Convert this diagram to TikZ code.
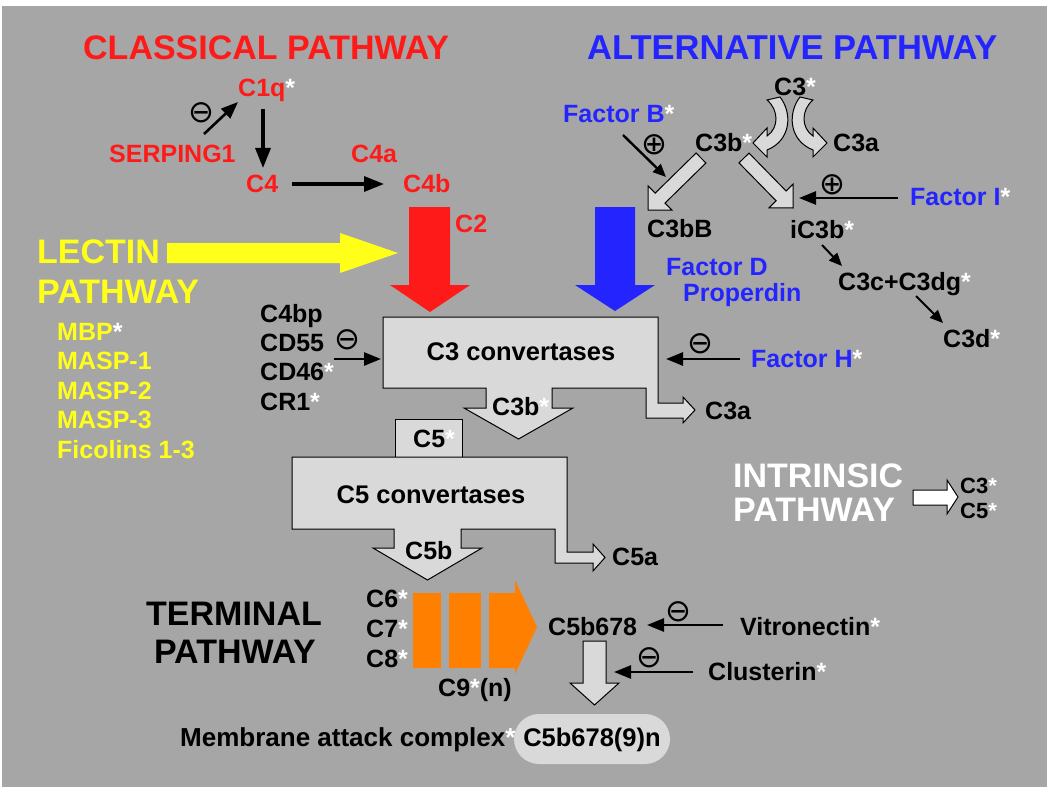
\documentclass[tikz,border=0pt]{standalone}
\usepackage{fontspec}
\setmainfont{Liberation Sans}
\newfontfamily\dejavu{DejaVu Sans}
\usetikzlibrary{arrows.meta}
\definecolor{bg}{RGB}{166,166,166}
\definecolor{cpred}{RGB}{255,26,26}
\definecolor{apblue}{RGB}{36,36,255}
\definecolor{lpyel}{RGB}{255,255,26}
\definecolor{boxgray}{RGB}{217,217,217}
\definecolor{curvgray}{RGB}{230,230,230}
\definecolor{tporange}{RGB}{255,128,0}
\newcommand{\wst}{\textcolor{white}{*}}
\tikzset{
  lbl/.style={font=\bfseries\fontsize{25}{30}\selectfont, inner sep=0pt, anchor=base west},
  slbl/.style={font=\bfseries\fontsize{22}{26}\selectfont, inner sep=0pt, anchor=base west},
  ttl/.style={font=\bfseries\fontsize{34}{40}\selectfont, inner sep=0pt, anchor=base west},
  sym/.style={font=\dejavu\fontsize{31}{31}\selectfont, inner sep=0pt},
  blk/.style={line width=3.2pt, -{Triangle[length=20pt,width=15pt]}},
  mid/.style={line width=2.6pt, -{Triangle[length=17pt,width=13pt]}},
  thn/.style={line width=2pt, -{Triangle[length=13pt,width=11pt]}},
  fat/.style={draw=black, line width=1pt, fill=boxgray, line join=miter},
}
\begin{document}
\begin{tikzpicture}[x=1pt,y=-1pt]
\useasboundingbox (0,0) rectangle (1050,789);
\fill[white] (0,0) rectangle (1050,789);
\fill[bg] (2,6) rectangle (1047,787);

% titles
\node[ttl,text=cpred,font=\bfseries\fontsize{34}{40}\selectfont] (cpt) at (83,60) {CLASSICAL PATHWAY};
\node[ttl,text=apblue,font=\bfseries\fontsize{34.5}{40}\selectfont] (apt) at (587,60) {ALTERNATIVE PATHWAY};

% classical pathway
\node[lbl,text=cpred] (c1q) at (238,96.5) {C1q\wst};
\node[lbl,text=cpred] (serp) at (109,163) {SERPING1};
\node[lbl,text=cpred] (c4) at (246,193) {C4};
\node[lbl,text=cpred] (c4a) at (351,163) {C4a};
\node[lbl,text=cpred] (c4b) at (403,193) {C4b};
\node[lbl,text=cpred] (c2) at (455,232) {C2};
\node[sym] (inh1) at (201,113) {⊖};
\coordinate (serpE) at (204,134); \coordinate (c1qW) at (238,102);
\draw[mid] (serpE) -- (c1qW);
\coordinate (c1qS) at (263,109); \coordinate (c4N) at (263,168);
\draw[blk] (c1qS) -- (c4N);
\coordinate (c4E) at (292,184); \coordinate (c4bW) at (384,184);
\draw[blk] (c4E) -- (c4bW);
\fill[cpred] (409,207) -- (450,207) -- (450,285) -- (470,285) -- (430,312) -- (390,285) -- (409,285) -- cycle;

% lectin pathway
\fill[lpyel] (167,243) -- (340,243) -- (340,233) -- (398,253) -- (340,273) -- (340,263) -- (167,263) -- cycle;
\node[ttl,text=lpyel] (lect1) at (37,263) {LECTIN};
\node[ttl,text=lpyel] (lect2) at (37,303) {PATHWAY};
\node[lbl,text=lpyel] (mbp) at (57,340) {MBP\wst};
\node[lbl,text=lpyel] (masp1) at (57,369.5) {MASP-1};
\node[lbl,text=lpyel] (masp2) at (57,399) {MASP-2};
\node[lbl,text=lpyel] (masp3) at (57,428.5) {MASP-3};
\node[lbl,text=lpyel] (fico) at (57,458) {Ficolins 1-3};

% alternative pathway
\node[lbl] (c3top) at (774,96) {C3\wst};
\draw[fat] (767,100) -- (780,97) .. controls (792,112) and (792,140) .. (767,150) -- (767,157) -- (753,143) -- (767,128) -- (767,136) .. controls (779,128) and (779,110) .. cycle;
\draw[fat] (813,100) -- (800,97) .. controls (788,112) and (788,140) .. (813,150) -- (813,157) -- (827,143) -- (813,128) -- (813,136) .. controls (801,128) and (801,110) .. cycle;
\node[lbl] (c3b1) at (695,152) {C3b\wst};
\node[lbl] (c3a1) at (833,152) {C3a};
\node[lbl,text=apblue] (fB) at (563,123) {Factor B\wst};
\node[sym] (act1) at (654,145) {⊕};
\coordinate (fBs) at (623,135); \coordinate (fBe) at (666,177);
\draw[thn,line width=2.4pt] (fBs) -- (fBe);
\draw[fat] (696.1,153.0) -- (655.2,193.1) -- (648.2,186.0) -- (648,210) -- (672.0,210.2) -- (665.0,203.1) -- (705.9,163.0) -- cycle;
\draw[fat] (749.0,153.1) -- (786.1,191.0) -- (793.2,184.0) -- (793,208) -- (769.0,207.8) -- (776.1,200.8) -- (739.0,162.9) -- cycle;
\node[lbl] (c3bB) at (647,237) {C3bB};
\node[lbl] (ic3b) at (790,238) {iC3b\wst};
\node[lbl,text=apblue] (fI) at (910,205) {Factor I\wst};
\node[sym] (act2) at (832,185) {⊕};
\coordinate (fIw) at (898,198); \coordinate (ic3bE) at (799,198);
\draw[mid] (fIw) -- (ic3bE);
\fill[apblue] (595,207) -- (635,207) -- (635,285) -- (655,285) -- (615,311) -- (575,285) -- (595,285) -- cycle;
\node[lbl,text=apblue] (fD) at (666,275) {Factor D};
\node[lbl,text=apblue] (prop) at (683,301) {Properdin};
\node[lbl] (c3c) at (838,290) {C3c+C3dg\wst};
\node[lbl] (c3d) at (943,347) {C3d\wst};
\coordinate (ic3bS) at (822,245); \coordinate (c3cN) at (842,266);
\draw[thn] (ic3bS) -- (c3cN);
\coordinate (c3cS) at (916,296); \coordinate (c3dN) at (943,323);
\draw[thn] (c3cS) -- (c3dN);
\node[lbl,text=apblue] (fH) at (751,367) {Factor H\wst};
\node[sym] (inh3) at (700,344) {⊖};
\coordinate (fHw) at (740,359); \coordinate (boxE) at (666,359);
\draw[mid] (fHw) -- (boxE);

% C3 convertases
\draw[fat] (383,317) -- (658,317) -- (658,403) -- (683,403) -- (683,397) -- (695,410) -- (683,423) -- (683,418) -- (646,418) -- (646,388) -- (552,388) -- (552,408) -- (573,408) -- (518.5,439) -- (464,408) -- (486,408) -- (486,388) -- (383,388) -- cycle;
\node[font=\bfseries\fontsize{25.5}{30}\selectfont, inner sep=0pt] (c3conv) at (521,352) {C3 convertases};
\node[lbl] (c3b2) at (492,415) {C3b\wst};
\node[lbl] (c3a2) at (705,419) {C3a};
\node[lbl] (c4bp) at (260,322) {C4bp};
\node[lbl] (cd55) at (260,351) {CD55};
\node[lbl] (cd46) at (260,380) {CD46\wst};
\node[lbl] (cr1) at (260,410) {CR1\wst};
\node[sym] (inh2) at (347,340) {⊖};
\coordinate (cd55E) at (334,359); \coordinate (boxW) at (381,359);
\draw[mid] (cd55E) -- (boxW);

% C5 convertases
\draw[fat] (395,419) rectangle (462,457);
\node[lbl] (c5) at (413,447) {C5\wst};
\draw[fat] (292,457) -- (567,457) -- (567,552) -- (593,552) -- (593,544) -- (605,557.5) -- (593,571) -- (593,563) -- (555,563) -- (555,529) -- (461,529) -- (461,548) -- (482,548) -- (427.5,580) -- (373,548) -- (394,548) -- (394,529) -- (292,529) -- cycle;
\node[font=\bfseries\fontsize{25.5}{30}\selectfont, inner sep=0pt] (c5conv) at (431,495) {C5 convertases};
\node[lbl] (c5b) at (405,559) {C5b};
\node[lbl] (c5a) at (612,565) {C5a};

% intrinsic pathway
\node[ttl,text=white] (int1) at (733,487) {INTRINSIC};
\node[ttl,text=white] (int2) at (733,521) {PATHWAY};
\draw[draw=black, line width=1pt, fill=white] (913,490) -- (947,490) -- (947,480) -- (958,497) -- (947,514) -- (947,505) -- (913,505) -- cycle;
\node[slbl] (ic3) at (960,493) {C3\wst};
\node[slbl] (ic5) at (960,518) {C5\wst};

% terminal pathway
\node[ttl, anchor=base] (term1) at (234,625) {TERMINAL};
\node[ttl, anchor=base] (term2) at (235,663) {PATHWAY};
\node[lbl] (c6) at (366,607) {C6\wst};
\node[lbl] (c7) at (366,637) {C7\wst};
\node[lbl] (c8) at (366,667) {C8\wst};
\fill[tporange] (413,593) rectangle (441,668);
\fill[tporange] (449,593) rectangle (481,668);
\fill[tporange] (489,593) -- (515,593) -- (515,580) -- (537,627) -- (515,674) -- (515,668) -- (489,668) -- cycle;
\node[lbl] (c9) at (438,696) {C9\wst(n)};
\node[lbl] (c5b678) at (548,635) {C5b678};
\node[lbl] (vitro) at (740,635) {Vitronectin\wst};
\node[sym] (inh4) at (678,612) {⊖};
\coordinate (vitW) at (723,625); \coordinate (c5b678E) at (647,625);
\draw[mid] (vitW) -- (c5b678E);
\draw[fat] (583,641) -- (606,641) -- (606,683) -- (619,683) -- (594.5,705) -- (570,683) -- (583,683) -- cycle;
\node[lbl] (clus) at (708,680) {Clusterin\wst};
\node[sym] (inh5) at (649,658) {⊖};
\coordinate (clusW) at (693,672); \coordinate (arrE) at (614,672);
\draw[mid] (clusW) -- (arrE);
\node[lbl, font=\bfseries\fontsize{26}{30}\selectfont] (mac) at (180,746) {Membrane attack complex\wst};
\fill[boxgray, rounded corners=25pt] (514,714) rectangle (670,764);
\node[font=\bfseries\fontsize{25.5}{30}\selectfont, inner sep=0pt, anchor=base] (mac2) at (592,746) {C5b678(9)n};
\end{tikzpicture}
\end{document}
